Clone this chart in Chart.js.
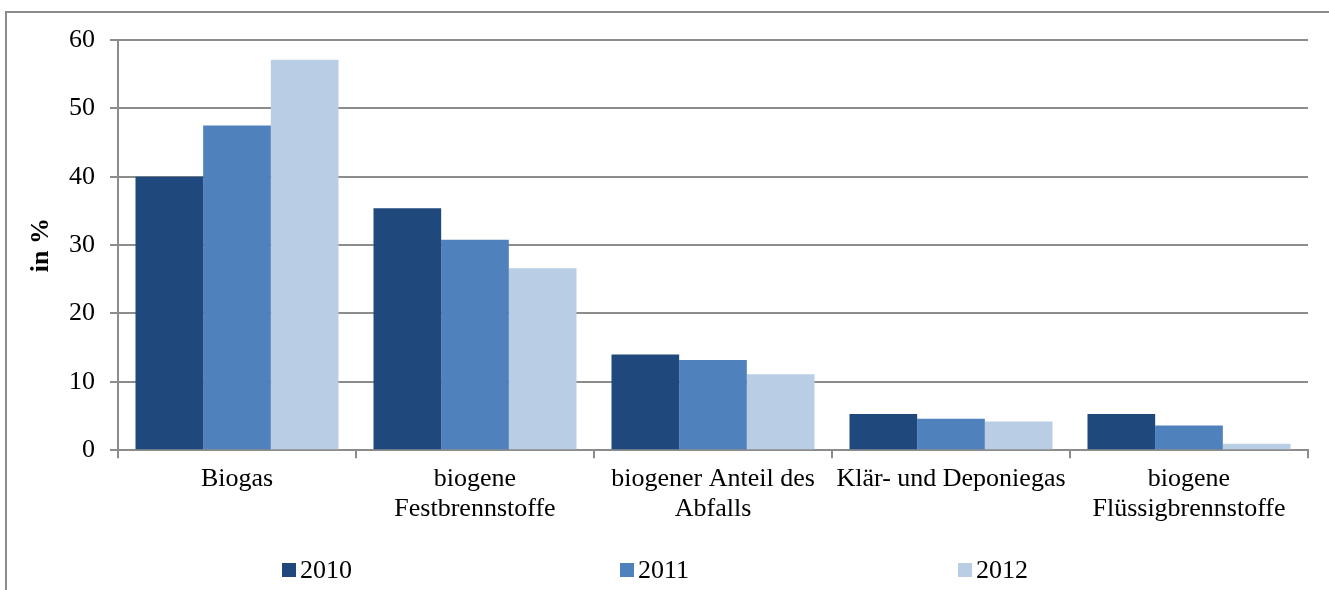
<!DOCTYPE html>
<html lang="de">
<head>
  <meta charset="UTF-8" />
  <title>Biogene Brennstoffe</title>
  <script src="https://cdn.jsdelivr.net/npm/chart.js"></script>
  <style>
    html, body { margin: 0; padding: 0; background: #fff; }
    #wrap { position: relative; width: 1329px; height: 590px; overflow: hidden; }
    #frame { position: absolute; left: 5px; top: 11px; width: 1400px; height: 700px;
             border-left: 2px solid #8c8c8c; border-top: 2px solid #8c8c8c; }
    canvas { position: absolute; left: 0; top: 0; }
  </style>
</head>
<body>
  <div id="wrap">
    <div id="frame"></div>
    <canvas id="chart" width="1329" height="590"></canvas>
  </div>

  <script>
    // categories (multi-line labels as in the original)
    const categories = [
      'Biogas',
      ['biogene', 'Festbrennstoffe'],
      ['biogener Anteil des', 'Abfalls'],
      'Klär- und Deponiegas',
      ['biogene', 'Flüssigbrennstoffe']
    ];
    const years = ['2010', '2011', '2012'];
    const values2010 = [40.0, 35.4, 14.0, 5.3, 5.3];
    const values2011 = [47.5, 30.8, 13.2, 4.6, 3.6];
    const values2012 = [57.1, 26.6, 11.1, 4.2, 0.95];
    const yTicks = [0, 10, 20, 30, 40, 50, 60];

    const colors = ['#1F497D', '#4F81BD', '#B9CDE5'];
    const font = "'Liberation Serif', 'Times New Roman', serif";
    const fontSize = 26;

    // legend drawn by hand: the original spreads the three entries across the width
    const spreadLegend = {
      id: 'spreadLegend',
      afterDraw(chart) {
        const c = chart.ctx;
        const step = 338, box = 14, gap = 4;
        const cy = 570;
        const items = chart.data.datasets;
        c.save();
        c.font = `${fontSize}px ${font}`;
        c.textBaseline = 'middle';
        const widths = items.map(ds => box + gap + c.measureText(ds.label).width);
        const total = step * (items.length - 1) + widths[widths.length - 1];
        let x = 655 - total / 2;
        items.forEach(ds => {
          c.fillStyle = ds.backgroundColor;
          c.fillRect(x, cy - box / 2, box, box);
          c.fillStyle = '#000';
          c.fillText(ds.label, x + box + gap, cy + 1);
          x += step;
        });
        c.restore();
      }
    };

    const ctx = document.getElementById('chart').getContext('2d');
    new Chart(ctx, {
      type: 'bar',
      data: {
        labels: categories,
        datasets: [values2010, values2011, values2012].map((vals, i) => ({
          label: years[i],
          data: vals,
          backgroundColor: colors[i],
          borderWidth: 0,
          categoryPercentage: 0.853,
          barPercentage: 1.0
        }))
      },
      options: {
        responsive: false,
        animation: false,
        layout: { padding: { left: 4, right: 21, top: 40, bottom: 60 } },
        plugins: {
          tooltip: { enabled: false },
          legend: { display: false }
        },
        scales: {
          x: {
            grid: { display: true, drawOnChartArea: false, drawTicks: true, tickLength: 8, color: '#8c8c8c', lineWidth: 2 },
            border: { color: '#8c8c8c', width: 2 },
            ticks: {
              color: '#000',
              font: { family: font, size: fontSize, lineHeight: 1.15 },
              maxRotation: 0, autoSkip: false, padding: 6
            }
          },
          y: {
            min: 0,
            max: 60,
            afterBuildTicks: axis => { axis.ticks = yTicks.map(v => ({ value: v })); },
            afterFit: axis => { axis.width = 114; },
            grid: { color: '#8c8c8c', lineWidth: 2, tickLength: 8 },
            border: { color: '#8c8c8c', width: 2 },
            ticks: { color: '#000', font: { family: font, size: fontSize }, padding: 15 },
            title: {
              display: true,
              text: 'in %',
              color: '#000',
              padding: { top: 22, bottom: 0 },
              font: { family: font, size: fontSize, weight: 'bold' }
            }
          }
        }
      },
      plugins: [spreadLegend]
    });
  </script>
</body>
</html>
